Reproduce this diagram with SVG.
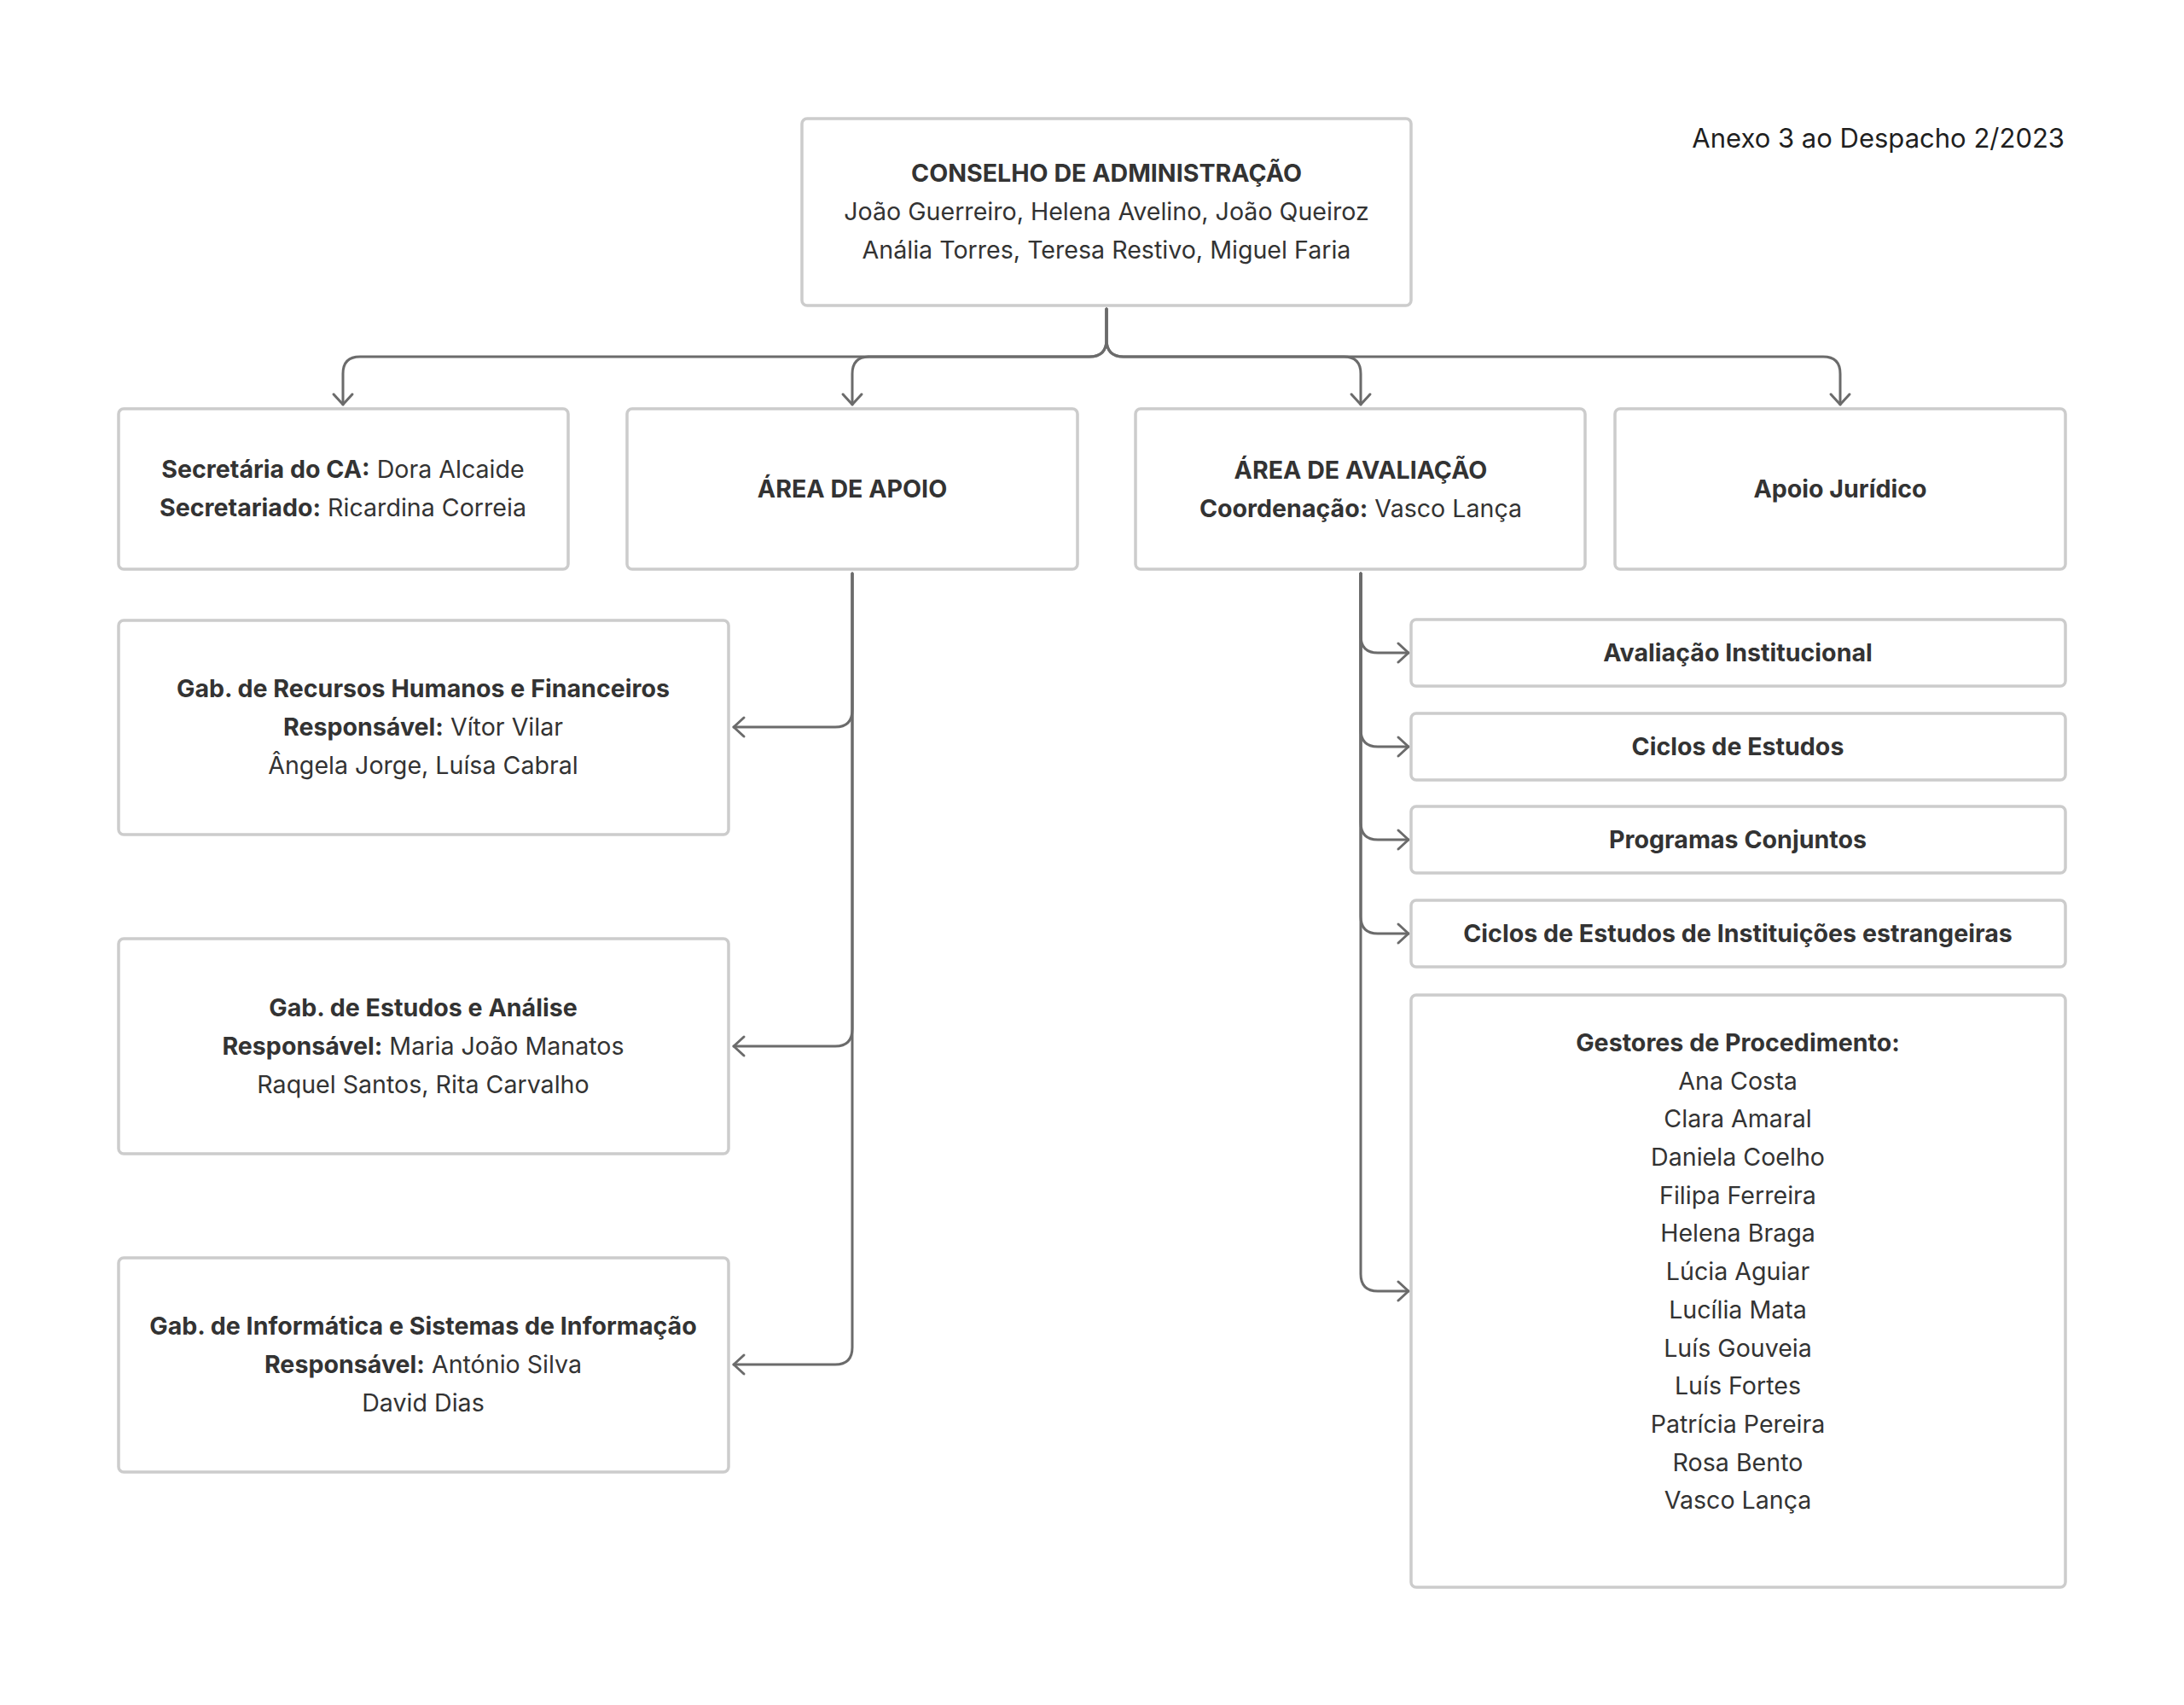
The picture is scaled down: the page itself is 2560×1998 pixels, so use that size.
<svg xmlns="http://www.w3.org/2000/svg" width="2560" height="1998" viewBox="0 0 2560 1998">
<defs>
<style>
.box{fill:#ffffff;stroke:#cccccc;stroke-width:3.5}
.t{font-family:Inter,"Noto Sans","Liberation Sans",sans-serif;font-size:28.6px;fill:#333333;text-anchor:middle}
.b{font-weight:700}
.c{fill:none;stroke:#6b6b6b;stroke-width:3;stroke-linecap:round;stroke-linejoin:round}
.title{font-family:Inter,"Noto Sans","Liberation Sans",sans-serif;font-size:31px;fill:#1f1f1f;text-anchor:end}
</style>
<marker id="arr" viewBox="-15 -14 18 28" markerWidth="18" markerHeight="28" refX="0" refY="0" orient="auto" markerUnits="userSpaceOnUse">
<path d="M-12,-11 L0,0 L-12,11" fill="none" stroke="#6b6b6b" stroke-width="3" stroke-linecap="round" stroke-linejoin="round"/>
</marker>
</defs>
<rect width="2560" height="1998" fill="#ffffff"/>
<text class="title" x="2420" y="173">Anexo 3 ao Despacho 2/2023</text>

<g id="connectors">
<path class="c" marker-end="url(#arr)" d="M1297,362 V398 Q1297,418 1277,418 H422 Q402,418 402,438 V474"/>
<path class="c" marker-end="url(#arr)" d="M1297,362 V398 Q1297,418 1277,418 H1019 Q999,418 999,438 V474"/>
<path class="c" marker-end="url(#arr)" d="M1297,362 V398 Q1297,418 1317,418 H1575 Q1595,418 1595,438 V474"/>
<path class="c" marker-end="url(#arr)" d="M1297,362 V398 Q1297,418 1317,418 H2137 Q2157,418 2157,438 V474"/>
<path class="c" marker-end="url(#arr)" d="M999,672 V832 Q999,852 979,852 H860"/>
<path class="c" marker-end="url(#arr)" d="M999,672 V1206 Q999,1226 979,1226 H860"/>
<path class="c" marker-end="url(#arr)" d="M999,672 V1579 Q999,1599 979,1599 H860"/>
<path class="c" marker-end="url(#arr)" d="M1595,672 V745 Q1595,765 1615,765 H1651"/>
<path class="c" marker-end="url(#arr)" d="M1595,672 V855 Q1595,875 1615,875 H1651"/>
<path class="c" marker-end="url(#arr)" d="M1595,672 V964 Q1595,984 1615,984 H1651"/>
<path class="c" marker-end="url(#arr)" d="M1595,672 V1074 Q1595,1094 1615,1094 H1651"/>
<path class="c" marker-end="url(#arr)" d="M1595,672 V1493 Q1595,1513 1615,1513 H1651"/>
</g>

<g id="conselho">
<rect class="box" x="940" y="139" width="714" height="219" rx="6"/>
<text class="t b" x="1297" y="213">CONSELHO DE ADMINISTRAÇÃO</text>
<text class="t" x="1297" y="258">João Guerreiro, Helena Avelino, João Queiroz</text>
<text class="t" x="1297" y="303">Anália Torres, Teresa Restivo, Miguel Faria</text>
</g>

<g id="secretaria">
<rect class="box" x="139" y="479" width="527" height="188" rx="6"/>
<text class="t" x="402" y="560"><tspan class="b">Secretária do CA:</tspan> Dora Alcaide</text>
<text class="t" x="402" y="605"><tspan class="b">Secretariado:</tspan> Ricardina Correia</text>
</g>

<g id="area-apoio">
<rect class="box" x="735" y="479" width="528" height="188" rx="6"/>
<text class="t b" x="999" y="583">ÁREA DE APOIO</text>
</g>

<g id="area-avaliacao">
<rect class="box" x="1331" y="479" width="527" height="188" rx="6"/>
<text class="t b" x="1595" y="561">ÁREA DE AVALIAÇÃO</text>
<text class="t" x="1595" y="606"><tspan class="b">Coordenação:</tspan> Vasco Lança</text>
</g>

<g id="apoio-juridico">
<rect class="box" x="1893" y="479" width="528" height="188" rx="6"/>
<text class="t b" x="2157" y="583">Apoio Jurídico</text>
</g>

<g id="gab-rh">
<rect class="box" x="139" y="727" width="715" height="251" rx="6"/>
<text class="t b" x="496" y="817">Gab. de Recursos Humanos e Financeiros</text>
<text class="t" x="496" y="862"><tspan class="b">Responsável:</tspan> Vítor Vilar</text>
<text class="t" x="496" y="907">Ângela Jorge, Luísa Cabral</text>
</g>

<g id="gab-estudos">
<rect class="box" x="139" y="1100" width="715" height="252" rx="6"/>
<text class="t b" x="496" y="1191">Gab. de Estudos e Análise</text>
<text class="t" x="496" y="1236"><tspan class="b">Responsável:</tspan> Maria João Manatos</text>
<text class="t" x="496" y="1281">Raquel Santos, Rita Carvalho</text>
</g>

<g id="gab-informatica">
<rect class="box" x="139" y="1474" width="715" height="251" rx="6"/>
<text class="t b" x="496" y="1564">Gab. de Informática e Sistemas de Informação</text>
<text class="t" x="496" y="1609"><tspan class="b">Responsável:</tspan> António Silva</text>
<text class="t" x="496" y="1654">David Dias</text>
</g>

<g id="avaliacao-institucional">
<rect class="box" x="1654" y="726" width="767" height="78" rx="6"/>
<text class="t b" x="2037" y="775">Avaliação Institucional</text>
</g>

<g id="ciclos-estudos">
<rect class="box" x="1654" y="836" width="767" height="78" rx="6"/>
<text class="t b" x="2037" y="885">Ciclos de Estudos</text>
</g>

<g id="programas-conjuntos">
<rect class="box" x="1654" y="945" width="767" height="78" rx="6"/>
<text class="t b" x="2037" y="994">Programas Conjuntos</text>
</g>

<g id="ciclos-estrangeiras">
<rect class="box" x="1654" y="1055" width="767" height="78" rx="6"/>
<text class="t b" x="2037" y="1104">Ciclos de Estudos de Instituições estrangeiras</text>
</g>

<g id="gestores">
<rect class="box" x="1654" y="1166" width="767" height="694" rx="6"/>
<text class="t b" x="2037" y="1232">Gestores de Procedimento:</text>
<text class="t" x="2037" y="1277">Ana Costa</text>
<text class="t" x="2037" y="1321">Clara Amaral</text>
<text class="t" x="2037" y="1366">Daniela Coelho</text>
<text class="t" x="2037" y="1411">Filipa Ferreira</text>
<text class="t" x="2037" y="1455">Helena Braga</text>
<text class="t" x="2037" y="1500">Lúcia Aguiar</text>
<text class="t" x="2037" y="1545">Lucília Mata</text>
<text class="t" x="2037" y="1590">Luís Gouveia</text>
<text class="t" x="2037" y="1634">Luís Fortes</text>
<text class="t" x="2037" y="1679">Patrícia Pereira</text>
<text class="t" x="2037" y="1724">Rosa Bento</text>
<text class="t" x="2037" y="1768">Vasco Lança</text>
</g>
</svg>
